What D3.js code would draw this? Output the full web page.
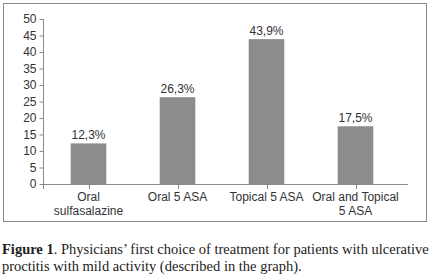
<!DOCTYPE html>
<html>
<head>
<meta charset="utf-8">
<script src="https://cdn.jsdelivr.net/npm/d3@7"></script>
<style>
  body { margin: 0; background: #fff; }
  svg { display: block; }
</style>
</head>
<body>
<svg id="chart" width="430" height="279"></svg>
<script>
var categories = ["Oral sulfasalazine", "Oral 5 ASA", "Topical 5 ASA", "Oral and Topical 5 ASA"]
var catLines = [["Oral", "sulfasalazine"], ["Oral 5 ASA"], ["Topical 5 ASA"], ["Oral and Topical", "5 ASA"]]
var values = [12.3, 26.3, 43.9, 17.5]
var valueLabels = ["12,3%", "26,3%", "43,9%", "17,5%"]
var yTicks = [0, 5, 10, 15, 20, 25, 30, 35, 40, 45, 50]
var captionBold = "Figure 1"
var captionLine1 = ". Physicians\u2019 first choice of treatment for patients with ulcerative"
var captionLine2 = "proctitis with mild activity (described in the graph)."

var svg = d3.select("#chart")
var textCol = "#333"
var axisCol = "#8a8a8a"
var barCol = "#8c8c8e"
var sans = "'Liberation Sans', Arial, sans-serif"

// frame
svg.append("rect")
    .attr("x", 3.5).attr("y", 3.5)
    .attr("width", 423).attr("height", 218)
    .attr("fill", "none").attr("stroke", "#888").attr("stroke-width", 1)

var x = d3.scaleBand().domain(categories).range([44, 400]).paddingInner(0.6).paddingOuter(0.3)
var y = d3.scaleLinear().domain([0, 50]).range([184, 19])

// y axis
var yAxis = svg.append("g").attr("transform", "translate(43.5,0)")
    .call(d3.axisLeft(y).tickValues(yTicks).tickSize(4).tickSizeOuter(0))
yAxis.select(".domain").attr("stroke", axisCol).attr("d", "M0," + y(50) + "V" + (y(0) + 5))
yAxis.selectAll(".tick line").attr("stroke", axisCol)
yAxis.selectAll(".tick text")
    .attr("fill", textCol).attr("font-family", sans).attr("font-size", 12)
    .attr("x", -7)

// x axis line
svg.append("line")
    .attr("x1", 43.5).attr("x2", 408).attr("y1", y(0) + 0.5).attr("y2", y(0) + 0.5)
    .attr("stroke", axisCol)

svg.selectAll(".xtick").data(categories).enter().append("line")
    .attr("x1", function(d) { return Math.round(x(d) + x.bandwidth() / 2) + 0.5 })
    .attr("x2", function(d) { return Math.round(x(d) + x.bandwidth() / 2) + 0.5 })
    .attr("y1", y(0)).attr("y2", y(0) + 5)
    .attr("stroke", axisCol)

// bars
svg.selectAll(".bar").data(values).enter().append("rect")
    .attr("x", function(d, i) { return x(categories[i]) })
    .attr("y", function(d) { return y(d) })
    .attr("width", x.bandwidth())
    .attr("height", function(d) { return y(0) - y(d) })
    .attr("fill", barCol)

// value labels
svg.selectAll(".vlab").data(values).enter().append("text")
    .attr("x", function(d, i) { return x(categories[i]) + x.bandwidth() / 2 })
    .attr("y", function(d) { return y(d) - 4 })
    .attr("text-anchor", "middle")
    .attr("font-family", sans).attr("font-size", 12)
    .attr("fill", textCol)
    .text(function(d, i) { return valueLabels[i] })

// category labels
catLines.forEach(function(lines, i) {
    var t = svg.append("text")
        .attr("text-anchor", "middle")
        .attr("font-family", sans).attr("font-size", 12)
        .attr("fill", textCol)
    lines.forEach(function(l, j) {
        t.append("tspan")
            .attr("x", x(categories[i]) + x.bandwidth() / 2)
            .attr("y", 201 + j * 14)
            .text(l)
    })
})

// caption
var serif = "'Liberation Serif', 'Times New Roman', serif"
var cap1 = svg.append("text").attr("x", 2).attr("y", 254)
    .attr("font-family", serif).attr("font-size", 13.5).attr("fill", "#222")
cap1.append("tspan").attr("font-weight", "bold").text(captionBold)
cap1.append("tspan").text(captionLine1)
var w = cap1.node().getComputedTextLength()
var fs = 13.5 * 427 / w
cap1.attr("font-size", fs)

svg.append("text").attr("x", 2).attr("y", 271)
    .attr("font-family", serif).attr("font-size", fs).attr("fill", "#222")
    .text(captionLine2)
</script>
</body>
</html>
